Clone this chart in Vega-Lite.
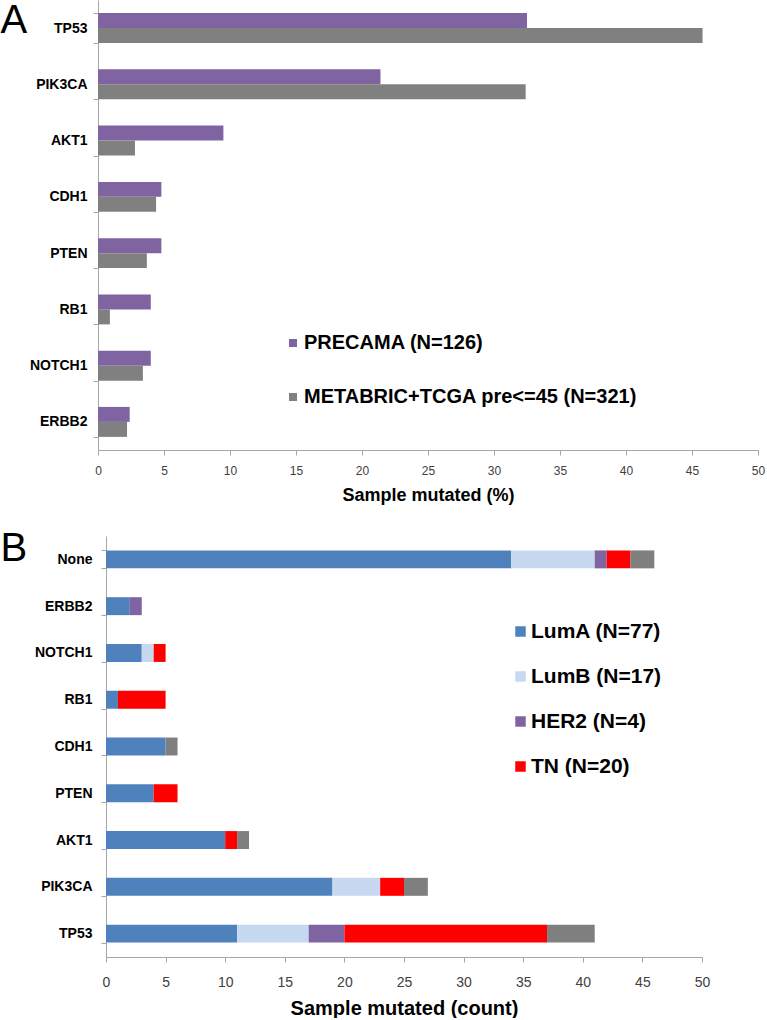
{
  "$schema": "https://vega.github.io/schema/vega-lite/v6.json",
  "padding": {"top": -7, "left": 0, "right": 0, "bottom": 0},
  "background": "white",
  "config": {
    "view": {"stroke": null},
    "font": "Liberation Sans",
    "axis": {"domainColor": "#a6a6a6", "tickColor": "#a6a6a6", "grid": false}
  },
  "datasets": {
    "panelA": [
      {"gene": "TP53", "cohort": "PRECAMA (N=126)", "pct": 32.5},
      {"gene": "TP53", "cohort": "METABRIC+TCGA pre<=45 (N=321)", "pct": 45.8},
      {"gene": "PIK3CA", "cohort": "PRECAMA (N=126)", "pct": 21.4},
      {"gene": "PIK3CA", "cohort": "METABRIC+TCGA pre<=45 (N=321)", "pct": 32.4},
      {"gene": "AKT1", "cohort": "PRECAMA (N=126)", "pct": 9.5},
      {"gene": "AKT1", "cohort": "METABRIC+TCGA pre<=45 (N=321)", "pct": 2.8},
      {"gene": "CDH1", "cohort": "PRECAMA (N=126)", "pct": 4.8},
      {"gene": "CDH1", "cohort": "METABRIC+TCGA pre<=45 (N=321)", "pct": 4.4},
      {"gene": "PTEN", "cohort": "PRECAMA (N=126)", "pct": 4.8},
      {"gene": "PTEN", "cohort": "METABRIC+TCGA pre<=45 (N=321)", "pct": 3.7},
      {"gene": "RB1", "cohort": "PRECAMA (N=126)", "pct": 4.0},
      {"gene": "RB1", "cohort": "METABRIC+TCGA pre<=45 (N=321)", "pct": 0.9},
      {"gene": "NOTCH1", "cohort": "PRECAMA (N=126)", "pct": 4.0},
      {"gene": "NOTCH1", "cohort": "METABRIC+TCGA pre<=45 (N=321)", "pct": 3.4},
      {"gene": "ERBB2", "cohort": "PRECAMA (N=126)", "pct": 2.4},
      {"gene": "ERBB2", "cohort": "METABRIC+TCGA pre<=45 (N=321)", "pct": 2.2}
    ],
    "panelB": [
      {"gene": "None", "subtype": "LumA (N=77)", "count": 34},
      {"gene": "None", "subtype": "LumB (N=17)", "count": 7},
      {"gene": "None", "subtype": "HER2 (N=4)", "count": 1},
      {"gene": "None", "subtype": "TN (N=20)", "count": 2},
      {"gene": "None", "subtype": "Other", "count": 2},
      {"gene": "ERBB2", "subtype": "LumA (N=77)", "count": 2},
      {"gene": "ERBB2", "subtype": "HER2 (N=4)", "count": 1},
      {"gene": "NOTCH1", "subtype": "LumA (N=77)", "count": 3},
      {"gene": "NOTCH1", "subtype": "LumB (N=17)", "count": 1},
      {"gene": "NOTCH1", "subtype": "TN (N=20)", "count": 1},
      {"gene": "RB1", "subtype": "LumA (N=77)", "count": 1},
      {"gene": "RB1", "subtype": "TN (N=20)", "count": 4},
      {"gene": "CDH1", "subtype": "LumA (N=77)", "count": 5},
      {"gene": "CDH1", "subtype": "Other", "count": 1},
      {"gene": "PTEN", "subtype": "LumA (N=77)", "count": 4},
      {"gene": "PTEN", "subtype": "TN (N=20)", "count": 2},
      {"gene": "AKT1", "subtype": "LumA (N=77)", "count": 10},
      {"gene": "AKT1", "subtype": "TN (N=20)", "count": 1},
      {"gene": "AKT1", "subtype": "Other", "count": 1},
      {"gene": "PIK3CA", "subtype": "LumA (N=77)", "count": 19},
      {"gene": "PIK3CA", "subtype": "LumB (N=17)", "count": 4},
      {"gene": "PIK3CA", "subtype": "TN (N=20)", "count": 2},
      {"gene": "PIK3CA", "subtype": "Other", "count": 2},
      {"gene": "TP53", "subtype": "LumA (N=77)", "count": 11},
      {"gene": "TP53", "subtype": "LumB (N=17)", "count": 6},
      {"gene": "TP53", "subtype": "HER2 (N=4)", "count": 3},
      {"gene": "TP53", "subtype": "TN (N=20)", "count": 17},
      {"gene": "TP53", "subtype": "Other", "count": 4}
    ]
  },
  "spacing": 24,
  "resolve": {"scale": {"color": "independent"}, "legend": {"color": "independent"}},
  "vconcat": [
    {
      "width": 652,
      "height": 450,
      "data": {"name": "panelA"},
      "mark": {"type": "bar"},
      "encoding": {
        "y": {
          "field": "gene", "type": "nominal",
          "sort": ["TP53", "PIK3CA", "AKT1", "CDH1", "PTEN", "RB1", "NOTCH1", "ERBB2"],
          "scale": {"paddingInner": 0.467, "paddingOuter": 0.233},
          "axis": {
            "offset": 8,
            "title": "A", "titleAngle": 0, "titleX": -98, "titleY": 0,
            "titleAlign": "left", "titleBaseline": "top", "titleFontSize": 40,
            "titleFontWeight": "normal", "titleColor": "black",
            "labelFontSize": 14, "labelFontWeight": "bold", "labelColor": "black",
            "tickBand": "extent", "tickSize": 5, "labelPadding": 6
          }
        },
        "yOffset": {
          "field": "cohort", "type": "nominal",
          "sort": ["PRECAMA (N=126)", "METABRIC+TCGA pre<=45 (N=321)"],
          "scale": {"paddingInner": 0, "paddingOuter": 0}
        },
        "x": {
          "field": "pct", "type": "quantitative",
          "scale": {"domain": [0, 50], "nice": false, "range": [-8, 652]},
          "axis": {
            "values": [0, 5, 10, 15, 20, 25, 30, 35, 40, 45, 50],
            "title": "Sample mutated (%)", "titleFontSize": 18, "titleFontWeight": "bold",
            "titleColor": "black", "labelFontSize": 12, "labelColor": "#404040",
            "labelPadding": 10, "titlePadding": 10, "tickSize": 5, "labelFlush": false
          }
        },
        "color": {
          "field": "cohort", "type": "nominal",
          "scale": {
            "domain": ["PRECAMA (N=126)", "METABRIC+TCGA pre<=45 (N=321)"],
            "range": ["#8064A2", "#808080"]
          },
          "legend": {
            "orient": "none", "legendX": 177, "legendY": 333, "title": null,
            "symbolType": "square", "symbolSize": 64, "symbolStrokeWidth": 0,
            "labelFontSize": 20, "labelFontWeight": "bold", "labelColor": "black",
            "rowPadding": 34, "labelOffset": 1, "padding": 0, "labelLimit": 600
          }
        }
      }
    },
    {
      "width": 596,
      "height": 421,
      "data": {"name": "panelB"},
      "transform": [
        {"calculate": "indexof(['LumA (N=77)', 'LumB (N=17)', 'HER2 (N=4)', 'TN (N=20)', 'Other'], datum.subtype)", "as": "stackOrder"}
      ],
      "mark": {"type": "bar"},
      "encoding": {
        "y": {
          "field": "gene", "type": "nominal",
          "sort": ["None", "ERBB2", "NOTCH1", "RB1", "CDH1", "PTEN", "AKT1", "PIK3CA", "TP53"],
          "scale": {"paddingInner": 0.616, "paddingOuter": 0.308},
          "axis": {
            "title": "B", "titleAngle": 0, "titleX": -106, "titleY": -8,
            "titleAlign": "left", "titleBaseline": "top", "titleFontSize": 40,
            "titleFontWeight": "normal", "titleColor": "black",
            "labelFontSize": 14, "labelFontWeight": "bold", "labelColor": "black",
            "tickBand": "extent", "tickSize": 5, "labelPadding": 9
          }
        },
        "x": {
          "field": "count", "type": "quantitative", "stack": "zero",
          "scale": {"domain": [0, 50], "nice": false},
          "axis": {
            "values": [0, 5, 10, 15, 20, 25, 30, 35, 40, 45, 50],
            "title": "Sample mutated (count)", "titleFontSize": 20, "titleFontWeight": "bold",
            "titleColor": "black", "labelFontSize": 14, "labelColor": "#404040",
            "labelPadding": 13, "titlePadding": 9, "tickSize": 5, "labelFlush": false
          }
        },
        "order": {"field": "stackOrder", "type": "quantitative", "sort": "ascending"},
        "color": {
          "field": "subtype", "type": "nominal",
          "scale": {
            "domain": ["LumA (N=77)", "LumB (N=17)", "HER2 (N=4)", "TN (N=20)", "Other"],
            "range": ["#4F81BD", "#C6D9F1", "#8064A2", "#FF0000", "#7F7F7F"]
          },
          "legend": {
            "orient": "none", "legendX": 404, "legendY": 85, "title": null,
            "values": ["LumA (N=77)", "LumB (N=17)", "HER2 (N=4)", "TN (N=20)"],
            "symbolType": "square", "symbolSize": 110, "symbolStrokeWidth": 0,
            "labelFontSize": 21, "labelFontWeight": "bold", "labelColor": "black",
            "rowPadding": 23, "labelOffset": 0, "padding": 0, "labelLimit": 600
          }
        }
      }
    }
  ]
}
